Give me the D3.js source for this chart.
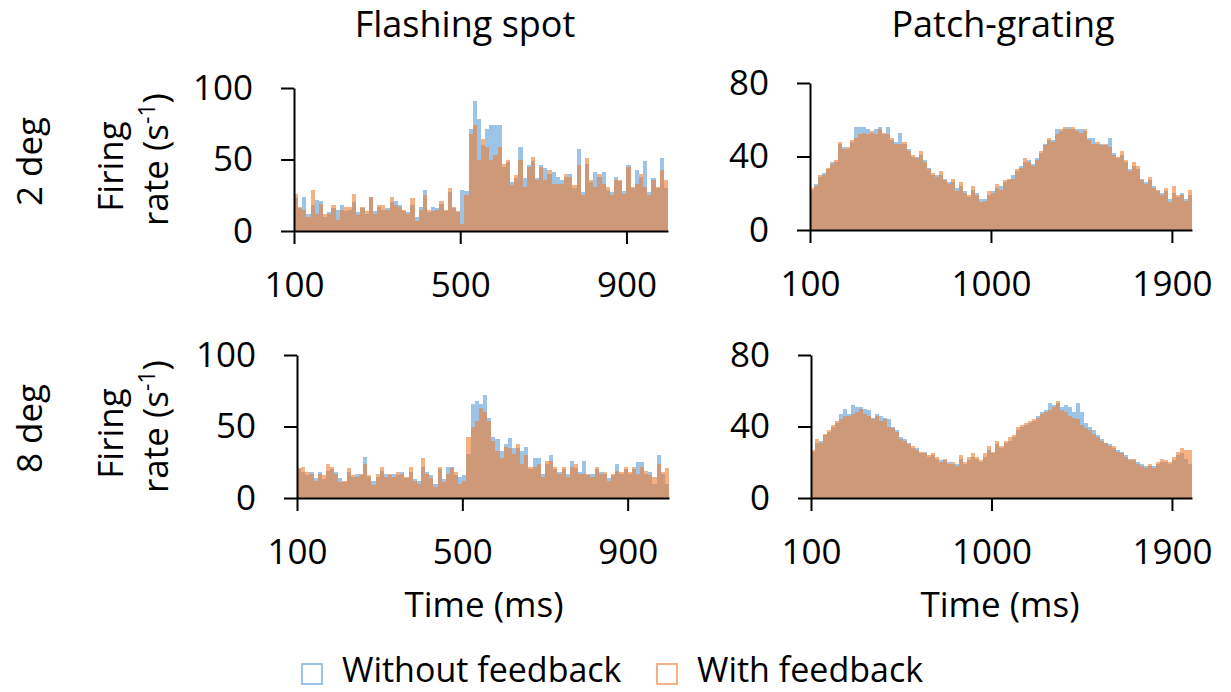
<!DOCTYPE html>
<html>
<head>
<meta charset="utf-8">
<script src="https://cdn.jsdelivr.net/npm/d3@7"></script>
<style>
  body { margin: 0; background: #fff; }
  svg { display: block; font-family: "Open Sans", sans-serif; }
  .axis path, .axis line { stroke: #000; stroke-width: 2; }
  .axis text { font-size: 35px; fill: #000; font-family: "Open Sans", sans-serif; }
</style>
</head>
<body>
<div id="chart"></div>
<script>
// firing rates (s^-1), flashing spot: 10 ms bins from 100 to 1000 ms
var spot2With = [26,17,15,10,29,12,19,12,12,18, 8,15,17,17,26,11,17,14,24,12,
  18,18,15,24,18,17,15,12,23,7, 15,25,15,14,15,21,15,30,17,14,
  5,25,68,74,50,64,59,50,53,59, 47,50,32,39,50,31,45,52,36,45,
  36,43,33,33,33,40,38,32,46,25, 51,36,31,40,33,31,25,36,36,26,
  45,31,33,40,31,25,36,31,43,36];
var spot2Without = [23,16,24,12,18,22,21,10,13,16, 15,18,14,15,20,13,16,12,24,14,
  17,15,16,20,21,18,14,13,18,10, 17,29,13,17,16,19,14,27,16,13,
  29,28,71,91,78,60,71,74,74,74, 45,48,34,37,59,37,46,49,37,46,
  44,40,41,38,36,38,40,30,57,27, 47,34,41,38,41,29,27,38,35,28,
  46,30,43,38,49,27,37,30,51,30];
var spot8With = [21,22,18,17,12,17,16,24,22,17, 11,12,21,16,15,17,24,16,9,17,
  22,15,17,15,18,17,15,22,12,10, 28,17,14,8,22,11,17,21,18,10,
  12,43,50,54,63,60,54,40,33,28, 36,35,31,38,24,30,22,22,24,15,
  26,26,22,17,22,15,22,24,17,17, 17,15,22,17,18,12,17,19,18,22,
  18,22,17,22,19,16,15,24,18,21];
var spot8Without = [20,18,16,18,14,18,13,19,20,18, 14,11,18,15,17,16,29,15,12,15,
  19,17,16,17,16,18,14,18,13,12, 22,18,16,10,20,13,22,22,16,15,
  16,31,66,68,66,72,56,43,41,33, 38,42,35,35,33,36,20,28,28,17,
  24,30,20,18,20,17,26,21,18,26, 16,17,20,18,17,14,16,24,17,20,
  17,20,25,25,17,18,10,30,17,10];

// patch-grating: 20 ms bins from 100 to 2000 ms
var grat2With = [23,24,30,30,34,36,38,48,44,45, 49,50,52,53,52,54,52,55,53,52,
  50,47,47,48,43,41,39,43,37,33, 31,29,32,27,25,28,21,26,20,19,
  24,19,15,16,21,20,25,22,27,28, 28,33,34,39,37,35,38,43,46,50,
  48,52,55,56,55,56,54,53,55,49, 47,48,46,47,45,41,40,43,38,32,
  37,35,27,25,29,23,22,19,23,15, 24,19,19,16,22];
var grat2Without = [22,25,29,31,33,37,37,47,45,44, 48,56,56,56,55,53,55,56,52,56,
  49,48,53,47,44,40,40,41,38,34, 30,30,30,28,26,26,23,24,21,18,
  22,20,17,17,19,21,23,24,26,27, 30,32,35,37,38,36,39,42,47,49,
  49,55,54,55,56,55,55,55,54,50, 50,47,47,46,50,42,39,41,37,33,
  35,33,28,26,27,24,21,20,21,17, 20,18,20,17,19];
var grat8With = [27,33,31,36,38,41,43,44,46,46, 47,48,50,47,46,44,46,43,44,40,
  39,37,33,32,30,29,27,26,25,24, 25,23,20,22,19,20,18,24,20,23,
  25,23,21,25,29,26,32,29,32,34, 35,40,41,42,43,44,45,47,48,49,
  51,54,49,48,46,45,44,41,39,38, 36,34,32,31,29,29,26,25,23,21,
  22,19,18,17,19,17,20,22,21,20, 23,26,28,27,27];
var grat8Without = [26,31,32,35,37,40,42,47,50,47, 52,51,51,50,49,45,47,46,45,44,
  40,38,34,33,31,28,28,25,26,23, 24,22,21,21,20,19,19,22,19,21,
  23,22,20,23,27,25,30,28,31,32, 34,38,40,41,42,43,46,48,49,53,
  52,53,51,52,51,48,53,48,42,40, 38,35,33,31,30,28,27,26,24,22,
  21,20,19,18,18,18,19,20,20,19, 21,24,25,22,19];

var columnTitles = ["Flashing spot", "Patch-grating"];
var rowLabels = ["2 deg", "8 deg"];
var seriesNames = ["Without feedback", "With feedback"];
var spotTicksX = [100, 500, 900];
var gratTicksX = [100, 1000, 1900];
var spotTicksY = [0, 50, 100];
var gratTicksY = [0, 40, 80];

var W = 1231, H = 692;
var FS = 35;
var blue = "#5b9bd5", orange = "#ed7d31";

var svg = d3.select("#chart").append("svg").attr("width", W).attr("height", H);

var panels = [
  { without: spot2Without, withFb: spot2With, start: 100, step: 10, xd: [100, 1000], yd: [0, 100],
    xt: spotTicksX, yt: spotTicksY, xr: [294, 668], yr: [231, 88] },
  { without: grat2Without, withFb: grat2With, start: 100, step: 20, xd: [100, 2000], yd: [0, 80],
    xt: gratTicksX, yt: gratTicksY, xr: [810, 1192], yr: [230, 83] },
  { without: spot8Without, withFb: spot8With, start: 100, step: 10, xd: [100, 1000], yd: [0, 100],
    xt: spotTicksX, yt: spotTicksY, xr: [297, 669], yr: [498, 355] },
  { without: grat8Without, withFb: grat8With, start: 100, step: 20, xd: [100, 2000], yd: [0, 80],
    xt: gratTicksX, yt: gratTicksY, xr: [811, 1192], yr: [498, 355] }
];

panels.forEach(function (p, idx) {
  var x = d3.scaleLinear().domain(p.xd).range(p.xr);
  var y = d3.scaleLinear().domain(p.yd).range(p.yr);
  var g = svg.append("g");

  function drawBars(vals, color, op) {
    g.append("g")
      .selectAll("rect")
      .data(vals)
      .enter()
      .append("rect")
      .attr("x", (d, i) => x(p.start + i * p.step))
      .attr("width", (d, i) => x(p.start + (i + 1) * p.step) - x(p.start + i * p.step))
      .attr("y", (d) => y(d))
      .attr("height", (d) => y(0) - y(d))
      .attr("fill", color)
      .attr("fill-opacity", op)
      .attr("shape-rendering", "crispEdges");
  }
  drawBars(p.without, blue, 0.6);
  drawBars(p.withFb, orange, 0.6);

  g.append("g")
    .attr("class", "axis")
    .attr("transform", "translate(0," + y(0) + ")")
    .call(d3.axisBottom(x).tickValues(p.xt).tickFormat(d3.format("d"))
      .tickSize(13).tickSizeOuter(0).tickPadding(28));
  g.append("g")
    .attr("class", "axis")
    .attr("transform", "translate(" + x(p.xd[0]) + ",0)")
    .call(d3.axisLeft(y).tickValues(p.yt).tickFormat(d3.format("d"))
      .tickSize(13).tickSizeOuter(0).tickPadding(28));

  var row = Math.floor(idx / 2), col = idx % 2;
  var midY = (p.yr[0] + p.yr[1]) / 2;
  if (row == 0) {
    svg.append("text")
      .attr("x", col == 0 ? 465 : 1003)
      .attr("y", 37)
      .attr("text-anchor", "middle")
      .attr("font-size", 36)
      .text(columnTitles[col]);
  } else {
    svg.append("text")
      .attr("x", col == 0 ? 484 : 1000)
      .attr("y", 617)
      .attr("text-anchor", "middle")
      .attr("font-size", FS)
      .text("Time (ms)");
  }
  if (col == 0) {
    svg.append("text")
      .attr("transform", "translate(42," + (midY + 2) + ") rotate(-90)")
      .attr("text-anchor", "middle")
      .attr("font-size", FS)
      .text(rowLabels[row]);
    svg.append("text")
      .attr("transform", "translate(123," + (midY + 7) + ") rotate(-90)")
      .attr("text-anchor", "middle")
      .attr("font-size", FS)
      .text("Firing");
    var t2 = svg.append("text")
      .attr("transform", "translate(168," + midY + ") rotate(-90)")
      .attr("text-anchor", "middle")
      .attr("font-size", FS);
    t2.append("tspan").text("rate (s");
    t2.append("tspan").attr("dy", -13).attr("font-size", 23).text("-1");
    t2.append("tspan").attr("dy", 13).text(")");
  }
});

// legend
var legend = svg.append("g");
var legItems = [
  { name: seriesNames[0], stroke: "#9dc3e6", x: 302 },
  { name: seriesNames[1], stroke: "#f4b183", x: 657 }
];
legItems.forEach(function (d) {
  legend.append("rect")
    .attr("x", d.x).attr("y", 664)
    .attr("width", 20).attr("height", 20)
    .attr("fill", "none")
    .attr("stroke", d.stroke)
    .attr("stroke-width", 2);
  legend.append("text")
    .attr("x", d.x + 40).attr("y", 682)
    .attr("font-size", 34)
    .text(d.name);
});
</script>
</body>
</html>
